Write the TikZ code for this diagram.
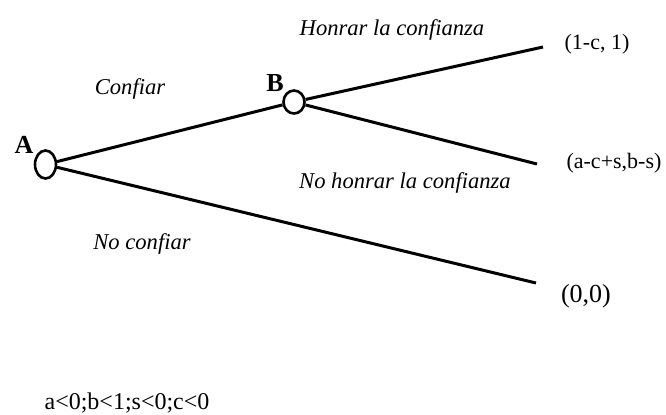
\documentclass[tikz,border=0pt]{standalone}
\usepackage{fontspec}
\setmainfont{Liberation Serif}
\usetikzlibrary{shapes.geometric}

\begin{document}
\begin{tikzpicture}[x=0.5pt,y=-0.5pt,
  decision/.style={draw,ellipse,line width=1.3pt,inner sep=0pt,fill=white},
  branch/.style={line width=1.5pt},
  player/.style={font=\fontsize{13}{15}\selectfont\bfseries,inner sep=0pt},
  move/.style={font=\fontsize{11.3}{13}\selectfont\itshape,inner sep=0pt},
  payoff/.style={font=\fontsize{10.5}{12}\selectfont,inner sep=0pt}
]
\useasboundingbox (0,0) rectangle (666,414);
% terminal points
\coordinate (t1) at (543,47);
\coordinate (t2) at (537,164);
\coordinate (t3) at (536,283);
% decision nodes
\node[decision,minimum width=10.5pt,minimum height=14pt] (A) at (45.5,164.5) {};
\node[decision,minimum width=10.5pt,minimum height=11.5pt] (B) at (294,102) {};
\node[player] (Alab) at (24,145) {A};
\node[player] (Blab) at (275,83) {B};
% branches
\draw[branch] (A) -- (B);
\draw[branch] (A) -- (t3);
\draw[branch] (B) -- (t1);
\draw[branch] (B) -- (t2);
% labels
\node[move] (confiar) at (130,89) {Confiar};
\node[move] (noconfiar) at (142,244) {No confiar};
\node[move] (honrar) at (392,30) {Honrar la confianza};
\node[move] (nohonrar) at (405,183) {No honrar la confianza};
\node[payoff,font=\fontsize{11}{13}\selectfont] (p1) at (597,44) {(1-c, 1)};
\node[payoff,font=\fontsize{11}{13}\selectfont] (p2) at (614,163) {(a-c+s,b-s)};
\node[payoff,font=\fontsize{13}{15}\selectfont] (p3) at (586,296) {(0,0)};
\node[payoff,font=\fontsize{12}{14}\selectfont] (cond) at (127,403) {a<0;b<1;s<0;c<0};
\end{tikzpicture}
\end{document}
